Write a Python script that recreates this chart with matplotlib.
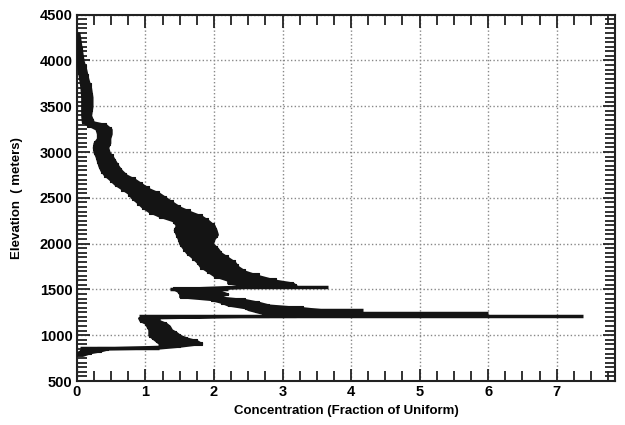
"""Concentration profile vs elevation"""
import matplotlib
matplotlib.use("Agg")
import matplotlib.pyplot as plt
from matplotlib.ticker import MultipleLocator

plt.rcParams["font.family"] = ["Liberation Sans", "DejaVu Sans"]
plt.rcParams["font.weight"] = "bold"

# elevation (m) with left / right edge of the measured band (fraction of uniform)
elev = [4300, 4200, 4100, 4000, 3900, 3800, 3700, 3600, 3500, 3400, 3330,
        3300, 3250, 3200, 3150, 3100, 3050, 3000, 2950, 2900, 2850, 2800,
        2750, 2700, 2650, 2600, 2550, 2500, 2450, 2400, 2350, 2300, 2250,
        2200, 2150, 2100, 2050, 2000, 1950, 1900, 1850, 1800, 1750, 1700,
        1650, 1600, 1570, 1540, 1510, 1480, 1450, 1420, 1390, 1360, 1330,
        1300, 1280, 1260, 1240, 1215, 1190, 1160, 1130, 1100, 1060, 1030,
        1000, 970, 940, 910, 880, 860, 850, 830, 810, 790, 780]
conc_lo = [0.0, 0.0, 0.0, 0.0, 0.02, 0.04, 0.06, 0.07, 0.07, 0.07, 0.08,
           0.15, 0.28, 0.3, 0.3, 0.25, 0.24, 0.25, 0.28, 0.3, 0.32, 0.35,
           0.4, 0.48, 0.55, 0.65, 0.75, 0.8, 0.88, 0.95, 1.05, 1.2, 1.4,
           1.45, 1.42, 1.45, 1.48, 1.5, 1.55, 1.6, 1.68, 1.75, 1.8, 1.9,
           2.0, 2.2, 2.2, 2.5, 1.4, 1.47, 1.5, 1.5, 1.95, 2.1, 2.2,
           2.45, 2.5, 2.6, 2.7, 2.8, 0.9, 0.92, 1.0, 1.02, 1.05, 1.05,
           1.05, 1.1, 1.15, 1.2, 1.2, 0.3, 0.1, 0.05, 0.0, 0.0, 0.0]
conc_hi = [0.03, 0.05, 0.07, 0.09, 0.13, 0.16, 0.2, 0.22, 0.22, 0.2, 0.24,
           0.42, 0.5, 0.5, 0.48, 0.48, 0.45, 0.47, 0.52, 0.56, 0.6, 0.65,
           0.72, 0.85, 0.95, 1.05, 1.2, 1.3, 1.4, 1.5, 1.65, 1.82, 1.92,
           2.0, 2.03, 2.05, 2.0, 1.98, 2.05, 2.1, 2.2, 2.3, 2.35, 2.45,
           2.65, 2.9, 3.15, 3.2, 2.1, 2.1, 2.2, 2.05, 2.45, 2.65, 2.8,
           3.3, 3.55, 3.55, 3.5, 3.2, 1.2, 1.2, 1.3, 1.35, 1.38, 1.45,
           1.5, 1.6, 1.75, 1.82, 1.5, 1.2, 0.45, 0.35, 0.2, 0.12, 0.08]

# narrow excursions (elevation, from, to)
spike_elev = [1527, 1505, 1275, 1243, 1205, 862]
spike_from = [2.5, 1.36, 3.0, 3.0, 0.9, 0.05]
spike_to = [3.66, 2.2, 4.17, 6.0, 7.38, 1.2]

fig = plt.figure(figsize=(6.25, 4.25), dpi=100)
ax = fig.add_axes([0.123, 0.1035, 0.861, 0.862])

ink = "#141414"
# smooth band plus a stepped copy on top for the ragged edges
ax.fill_betweenx(elev, conc_lo, conc_hi, color=ink, lw=1.5,
                 edgecolor=ink, zorder=3)
ax.fill_betweenx(elev, conc_lo, conc_hi, step="mid", color=ink, lw=0.8,
                 edgecolor=ink, zorder=3)
ax.hlines(spike_elev, spike_from, spike_to, color=ink, lw=2.5, zorder=3)

ax.set_xlim(0, 7.85)
ax.set_ylim(500, 4500)
ax.xaxis.set_major_locator(MultipleLocator(1))
ax.xaxis.set_minor_locator(MultipleLocator(0.25))
ax.yaxis.set_major_locator(MultipleLocator(500))
ax.yaxis.set_minor_locator(MultipleLocator(50))
ax.tick_params(which="both", direction="in", top=True, right=True,
               color="#222222", width=1.3)
ax.tick_params(which="major", length=9, labelsize=10.5, pad=3)
ax.tick_params(which="minor", length=7)
for lab in ax.get_xticklabels() + ax.get_yticklabels():
    lab.set_fontweight("bold")
for sp in ax.spines.values():
    sp.set_linewidth(1.5)
    sp.set_color("#222222")

ax.grid(True, which="major", color="#888888", linestyle=":", linewidth=1.0)

ax.set_xlabel("Concentration (Fraction of Uniform)", fontsize=9.5,
              fontweight="bold", labelpad=4)
ax.set_ylabel("Elevation  ( meters)", fontsize=9.5, fontweight="bold",
              labelpad=12)

fig.savefig("out.png", dpi=100)
